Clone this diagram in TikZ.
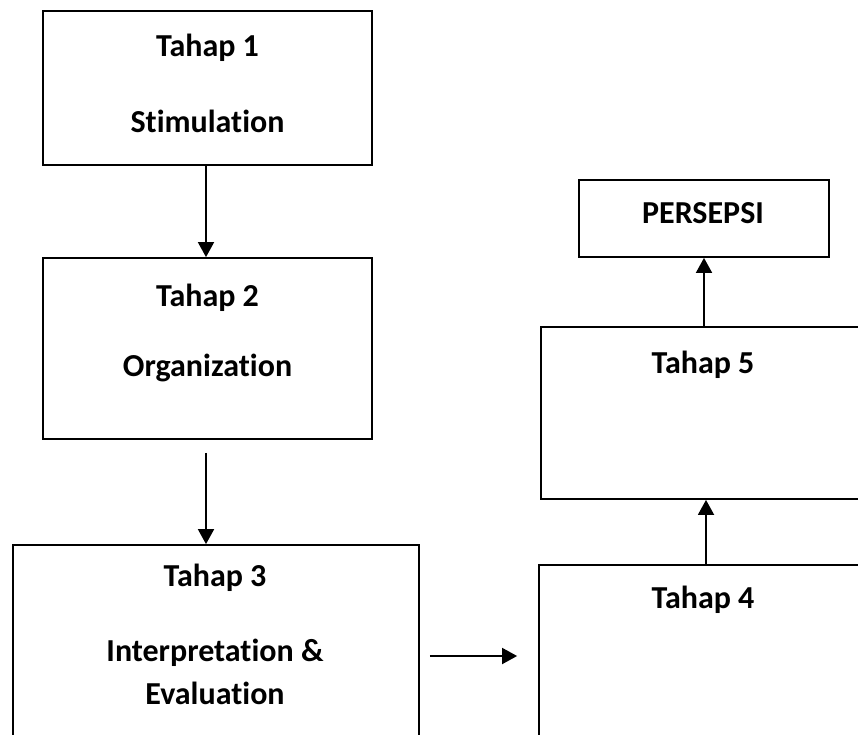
\documentclass[tikz,border=0pt]{standalone}
\usepackage{fontspec}
\setmainfont[Ligatures={NoCommon}]{Carlito}
\usetikzlibrary{arrows.meta}
\tikzset{
  stagebox/.style={draw=black, line width=1.8pt, fill=none, inner sep=0pt},
  lbl/.style={font=\fontsize{32}{38}\selectfont\bfseries, inner sep=0pt, anchor=center},
  flow/.style={line width=1.8pt, -{Triangle[length=15pt,width=16pt]}}
}
\begin{document}
\begin{tikzpicture}[x=1pt,y=-1pt]
\clip (0,0) rectangle (858,734);
\fill[white] (0,0) rectangle (858,734);
% boxes
\node[stagebox, minimum width=329pt, minimum height=154pt] (b1) at (207.5,88) {};
\node[stagebox, minimum width=329pt, minimum height=181pt] (b2) at (207.5,348.5) {};
\node[stagebox, minimum width=406pt, minimum height=222pt] (b3) at (216,656) {};
\node[stagebox, minimum width=328pt, minimum height=182pt] (b4) at (703,656) {};
\node[stagebox, minimum width=324pt, minimum height=172pt] (b5) at (703,413) {};
\node[stagebox, minimum width=250pt, minimum height=77pt] (p) at (704,218.5) {};
% texts
\node[lbl] (t1a) at (207.5,48) {Tahap 1};
\node[lbl] (t1b) at (207.5,121) {Stimulation};
\node[lbl] (t2a) at (207.5,298) {Tahap 2};
\node[lbl] (t2b) at (207.5,368) {Organization};
\node[lbl] (t3a) at (215,578) {Tahap 3};
\node[lbl] (t3b) at (215,653) {Interpretation \&};
\node[lbl] (t3c) at (215,693) {Evaluation};
\node[lbl] (t4) at (703,600) {Tahap 4};
\node[lbl] (t5) at (703,365) {Tahap 5};
\node[lbl] (tp) at (703,213) {PERSEPSI};
% connectors
\draw[flow] ([xshift=-1.5pt]b1.south) -- ([xshift=-1.5pt]b2.north);
\draw[flow, shorten <=13pt] ([xshift=-1.5pt]b2.south) -- ([xshift=-1.5pt]b2.south |- b3.north);
\draw[flow, shorten <=10pt, shorten >=21pt] (b3.east) -- (b4.west);
\draw[flow] ([xshift=3pt]b4.north) -- ([xshift=3pt]b4.north |- b5.south);
\draw[flow] (b5.north -| p.south) -- (p.south);
\end{tikzpicture}
\end{document}
